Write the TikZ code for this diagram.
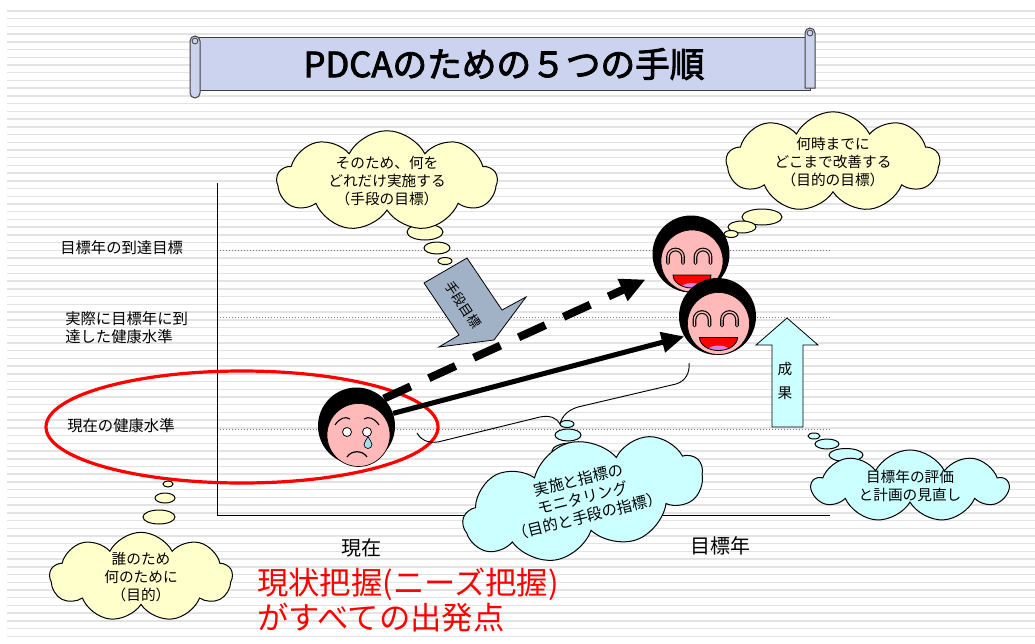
\documentclass[tikz,border=0pt]{standalone}
\usepackage{fontspec}
\setmainfont{Noto Sans CJK JP}
\newfontfamily\headfont[FakeBold=2.5]{Noto Sans CJK JP}
\usetikzlibrary{shapes.symbols,arrows.meta,calc}

\definecolor{stripe}{HTML}{E3E3E3}
\definecolor{scrollfill}{HTML}{CBD3EE}
\definecolor{cloudyellow}{HTML}{FFFFCC}
\definecolor{cloudcyan}{HTML}{CCFFFF}
\definecolor{skin}{HTML}{FFB9B9}
\definecolor{tongue}{HTML}{E27BE2}
\definecolor{teardrop}{HTML}{9EE0EE}
\definecolor{slate}{HTML}{A2B2C6}
\definecolor{guide}{HTML}{7A7A7A}

\tikzset{
  smiley/.pic={
    \filldraw[fill=skin, draw=black, line width=0.5pt] (1,7) circle[radius=31*.75pt];
    \foreach \ex in {-15.5,12}{
      \draw[line width=2.8pt, line cap=round] (\ex-7.5,9) -- (\ex-7.5,3) arc[start angle=180,end angle=0,radius=7.5*.75pt] -- (\ex+7.5,9);
      \draw[skin, line width=1.1pt] (\ex-7.5,9.5) -- (\ex-7.5,3) arc[start angle=180,end angle=0,radius=7.5*.75pt] -- (\ex+7.5,9.5);
    }
    \begin{scope}
      \clip (-18,21) arc[start angle=180,end angle=360,x radius=19*.75pt,y radius=13*.75pt] -- cycle;
      \fill[red] (-18,20) rectangle (20,40);
      \fill[tongue] (1,34) ellipse[x radius=11*.75pt, y radius=5*.75pt];
    \end{scope}
    \draw[line width=0.6pt] (-18,21) arc[start angle=180,end angle=360,x radius=19*.75pt,y radius=13*.75pt] -- cycle;
  },
  weeper/.pic={
    \filldraw[fill=skin, draw=black, line width=0.5pt] (2,9) circle[radius=31.5*.75pt];
    \filldraw[fill=white, draw=black, line width=0.6pt] (-9.5,6) circle[radius=4.5*.75pt];
    \filldraw[fill=white, draw=black, line width=0.6pt] (10.5,6) circle[radius=4.5*.75pt];
    \draw[line width=0.8pt] (-21.5,-1) .. controls (-17,-8) and (-11,-10) .. (-6.5,-7);
    \draw[line width=0.8pt] (7.5,-7) .. controls (12,-10) and (18,-8) .. (22.5,-1);
    \filldraw[fill=teardrop, draw=black, line width=0.5pt] (11.5,10.5) .. controls (13,14) and (15.5,16) .. (15.5,18.5)
      arc[start angle=0,end angle=-180,radius=4*.75pt] .. controls (7.5,16) and (10,14) .. (11.5,10.5) -- cycle;
    \draw[line width=0.9pt] (-9.5,31) .. controls (-5,24) and (6,24) .. (10.5,31);
  },
}

\begin{document}
\begin{tikzpicture}[x=0.75pt,y=-0.75pt,
  lbl/.style={inner sep=0pt, font=\fontsize{11.5}{13.5}\selectfont},
  axislbl/.style={inner sep=0pt, font=\fontsize{15}{18}\selectfont},
  thought/.style={cloud, draw=black, line width=0.75pt, fill=cloudyellow, cloud puffs=9,
    cloud puff arc=125, cloud ignores aspect, align=center, inner sep=0pt,
    font=\fontsize{11}{13.5}\selectfont},
  coolthought/.style={thought, fill=cloudcyan},
  bubble/.style={draw=black, line width=0.75pt, fill=cloudyellow},
  coolbubble/.style={bubble, fill=cloudcyan},
  head/.style={circle, fill=black, inner sep=0pt, minimum size=77*.75pt},
  guideline/.style={guide, line width=0.6pt, dash pattern=on 0.75pt off 1.5pt},
]
\useasboundingbox (0,0) rectangle (1035,643);
\fill[white] (0,0) rectangle (1035,643);

% ruled background
\foreach \i in {0,...,81}
  \draw[stripe, line width=1.1pt] (7,11+\i*7.72) -- (1035,11+\i*7.72);

% title scroll
\filldraw[fill=scrollfill, draw=black!75, line width=0.75pt] (196,37) -- (810,37) -- (810,90) -- (196,90) -- cycle;
\filldraw[fill=scrollfill, draw=black!75, line width=0.75pt] (190,41) -- (190,93) arc[start angle=180,end angle=360,radius=3.75pt] -- (200,41) arc[start angle=0,end angle=180,radius=3.75pt] -- cycle;
\draw[black!75, line width=0.6pt] (195,41) circle[radius=2.2pt];
\filldraw[fill=scrollfill, draw=black!75, line width=0.75pt] (805,33) -- (805,88) -- (815,88) -- (815,33) arc[start angle=0,end angle=180,radius=3.75pt] -- cycle;
\draw[black!75, line width=0.6pt] (810,33) circle[radius=2.2pt];
\node[inner sep=0pt, font=\fontsize{26}{30}\selectfont\headfont] (title) at (504,64) {PDCAのための５つの手順};

% axes and reference levels
\draw[line width=0.75pt] (217,183) -- (217,515) -- (830,515);
\draw[guideline] (220,250) -- (832,250);
\draw[guideline] (220,317) -- (832,317);
\draw[guideline] (220,429) -- (832,429);

\node[lbl, anchor=west] (lvGoal) at (60,248) {目標年の到達目標};
\node[lbl, anchor=west, align=left] (lvReal) at (65,328) {実際に目標年に到\\達した健康水準};
\node[lbl, anchor=west] (lvNow) at (67,426) {現在の健康水準};

\node[axislbl] (xNow) at (361,548) {現在};
\node[axislbl] (xGoal) at (720,546) {目標年};

% faces
\node[head] (cry) at (356.5,426) {};
\pic at (cry) {weeper};
\node[head] (hap1) at (691,254) {};
\pic at (hap1) {smiley};
\node[head] (hap2) at (717.5,316.5) {};
\pic at (hap2) {smiley};

% present situation ring
\draw[red, line width=2.4pt] (242,427) ellipse[x radius=196*.75pt, y radius=56*.75pt];

% progress arrows
\draw[line width=6pt, dash pattern=on 22pt off 15pt, shorten >=10pt,
  -{Triangle[length=19pt,width=17pt]}] (cry.45) -- (hap1.211);
\draw[line width=3.8pt, -{Triangle[length=17pt,width=15pt]}] (cry.19) -- (hap2.211);

% brace under the progress arrow
\draw[line width=0.7pt] (417,433) .. controls (422,442) and (432,444) .. (442,441) -- (540,417)
  .. controls (550,415) and (557,418) .. (560,424) .. controls (562,416) and (568,410) .. (578,407)
  -- (676,384) .. controls (686,381) and (690,372) .. (689,363);

% means arrow
\filldraw[fill=slate, draw=black, line width=0.6pt]
  (424,283) -- (467,258) -- (502,310) -- (526,297) -- (494,340) -- (439,347) -- (459,335) -- cycle;
\node[inner sep=0pt, rotate=-57, font=\fontsize{10}{12}\selectfont] (means) at (463,305) {手段目標};

% result arrow
\filldraw[fill=cloudcyan, draw=black, line width=0.6pt]
  (787,318) -- (818,345) -- (803,345) -- (803,427) -- (772,427) -- (772,345) -- (756,345) -- cycle;
\node[inner sep=0pt, align=center, font=\fontsize{11}{18}\selectfont] (result) at (785,381) {成\\果};

% thought clouds
\path[bubble] (425,232) ellipse[x radius=18*.75pt, y radius=8*.75pt];
\path[bubble] (437,248) ellipse[x radius=13*.75pt, y radius=6*.75pt];
\path[bubble] (445,261) ellipse[x radius=7*.75pt, y radius=3.5*.75pt];
\node[thought, minimum width=165pt, minimum height=64pt] (means-cloud) at (387,181)
  {そのため、何を\\どれだけ実施する\\（手段の目標）};

\path[bubble] (762,217) ellipse[x radius=20*.75pt, y radius=8*.75pt];
\path[bubble] (742,227) ellipse[x radius=14*.75pt, y radius=6*.75pt];
\path[bubble] (731,234) ellipse[x radius=7*.75pt, y radius=3.5*.75pt];
\node[thought, minimum width=160pt, minimum height=74pt] (aim-cloud) at (833,162)
  {何時までに\\どこまで改善する\\（目的の目標）};

\path[coolbubble] (567,424) ellipse[x radius=7*.75pt, y radius=3.5*.75pt];
\path[coolbubble] (568,435) ellipse[x radius=13*.75pt, y radius=6*.75pt];
\path[coolbubble] (572,451) ellipse[x radius=20*.75pt, y radius=8*.75pt];
\node[coolthought, rotate=14, minimum width=184pt, minimum height=70pt, font=\fontsize{11.5}{14}\selectfont] (monitor-cloud) at (583,498)
  {実施と指標の\\モニタリング\\（目的と手段の指標）};

\path[coolbubble] (814,436) ellipse[x radius=6*.75pt, y radius=3*.75pt];
\path[coolbubble] (827,444) ellipse[x radius=12*.75pt, y radius=5*.75pt];
\path[coolbubble] (846,455) ellipse[x radius=17*.75pt, y radius=6.5*.75pt];
\node[coolthought, minimum width=147pt, minimum height=44pt] (review-cloud) at (910,486)
  {目標年の評価\\と計画の見直し};

\path[bubble] (168,484) ellipse[x radius=5*.75pt, y radius=3*.75pt];
\path[bubble] (165,498) ellipse[x radius=10*.75pt, y radius=5*.75pt];
\path[bubble] (159,517) ellipse[x radius=16*.75pt, y radius=7*.75pt];
\node[thought, minimum width=137pt, minimum height=67pt] (who-cloud) at (141,577)
  {誰のため\\何のために\\（目的）};

% starting point message
\node[anchor=west, align=left, inner sep=0pt, text=red, font=\fontsize{23.5}{26}\selectfont] (start) at (257,600)
  {現状把握(ニーズ把握)\\がすべての出発点};
\end{tikzpicture}
\end{document}
